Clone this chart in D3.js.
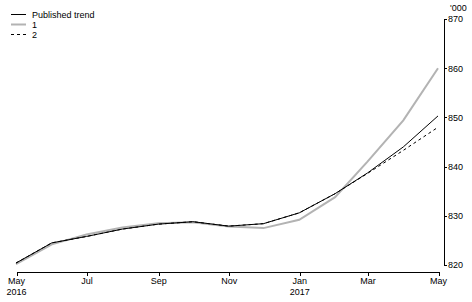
<!DOCTYPE html>
<html><head><meta charset="utf-8">
<script src="https://cdn.jsdelivr.net/npm/d3@7"></script>
<style>
body{margin:0;background:#fff;}
text{font-family:"Liberation Sans",Arial,sans-serif;font-size:9px;fill:#000;}
</style></head>
<body><svg id="c" width="472" height="302"></svg>
<script>
const months = ["2016-05","2016-06","2016-07","2016-08","2016-09","2016-10","2016-11","2016-12","2017-01","2017-02","2017-03","2017-04","2017-05"];
const published = [820.4,824.5,825.8,827.3,828.3,828.8,827.9,828.4,830.6,834.5,838.7,844.0,850.3];
const series1   = [820.2,824.2,826.2,827.6,828.5,828.7,827.8,827.5,829.2,833.8,841.0,849.4,860.0];
const series2   = [820.4,824.5,825.8,827.3,828.3,828.8,827.9,828.4,830.6,834.5,838.6,843.3,848.0];
const yTicks = [820,830,840,850,860,870];
const xTickMonths = ["2016-05","2016-07","2016-09","2016-11","2017-01","2017-03","2017-05"];
const xTickLabels = [["May","2016"],["Jul"],["Sep"],["Nov"],["Jan","2017"],["Mar"],["May"]];
const legendLabels = ["Published trend","1","2"];
const yUnit = "'000";

const parse = d3.timeParse("%Y-%m");
const dates = months.map(parse);
const svg = d3.select("#c");

const x = d3.scaleTime().domain([dates[0], dates[dates.length-1]]).range([16, 438]);
const y = d3.scaleLinear().domain([820, 870]).range([265, 19]);

// x axis
const xAxis = d3.axisBottom(x).tickValues(xTickMonths.map(parse)).tickSize(4).tickFormat("");
const gx = svg.append("g").attr("transform","translate(0,272)").call(xAxis);
gx.select(".domain").attr("d", `M${x(dates[0])+0.5},0.5H${x(dates[dates.length-1])+0.5}`).attr("stroke","#000").attr("shape-rendering","crispEdges");
gx.selectAll(".tick line").attr("stroke","#000").attr("shape-rendering","crispEdges").attr("transform","translate(0.5,0)");
gx.selectAll(".tick").each(function(d,i){
  const t = d3.select(this).append("text").attr("text-anchor","middle").attr("fill","#000");
  xTickLabels[i].forEach((s,j)=>{
    t.append("tspan").attr("x",0).attr("y", 11.5 + j*11.5).text(s);
  });
});

// y axis (right)
const yAxis = d3.axisRight(y).tickValues(yTicks).tickSize(3).tickPadding(1).tickFormat(d3.format("d"));
const gy = svg.append("g").attr("transform","translate(444,0)").call(yAxis);
gy.select(".domain").attr("d", `M0.5,${y(870)}V${y(820)+0.5}`).attr("stroke","#000").attr("shape-rendering","crispEdges");
gy.selectAll(".tick line").attr("stroke","#000").attr("shape-rendering","crispEdges");
gy.selectAll(".tick text").attr("font-family","Liberation Sans, Arial, sans-serif").attr("font-size",9).attr("fill","#000");
svg.append("text").attr("x",450).attr("y",11).text(yUnit);

// lines
const line = d3.line().x((d,i)=>x(dates[i])).y(d=>y(d));
svg.append("path").datum(series1).attr("d",line).attr("fill","none").attr("stroke","#b3b3b3").attr("stroke-width",2);
svg.append("path").datum(series2).attr("d",line).attr("fill","none").attr("stroke","#000").attr("stroke-width",1).attr("stroke-dasharray","3,3");
svg.append("path").datum(published).attr("d",line).attr("fill","none").attr("stroke","#000").attr("stroke-width",1);

// legend
const legendStyles = [{c:"#000",w:1,d:null},{c:"#b3b3b3",w:2,d:null},{c:"#000",w:1,d:"3,3"}];
legendLabels.forEach((lab,i)=>{
  const yy = 14.5 + i*10;
  svg.append("line").attr("x1",11).attr("x2",26).attr("y1",yy).attr("y2",yy)
    .attr("stroke",legendStyles[i].c).attr("stroke-width",legendStyles[i].w)
    .attr("stroke-dasharray",legendStyles[i].d);
  svg.append("text").attr("x",32).attr("y",yy+3).text(lab);
});
</script></body></html>
